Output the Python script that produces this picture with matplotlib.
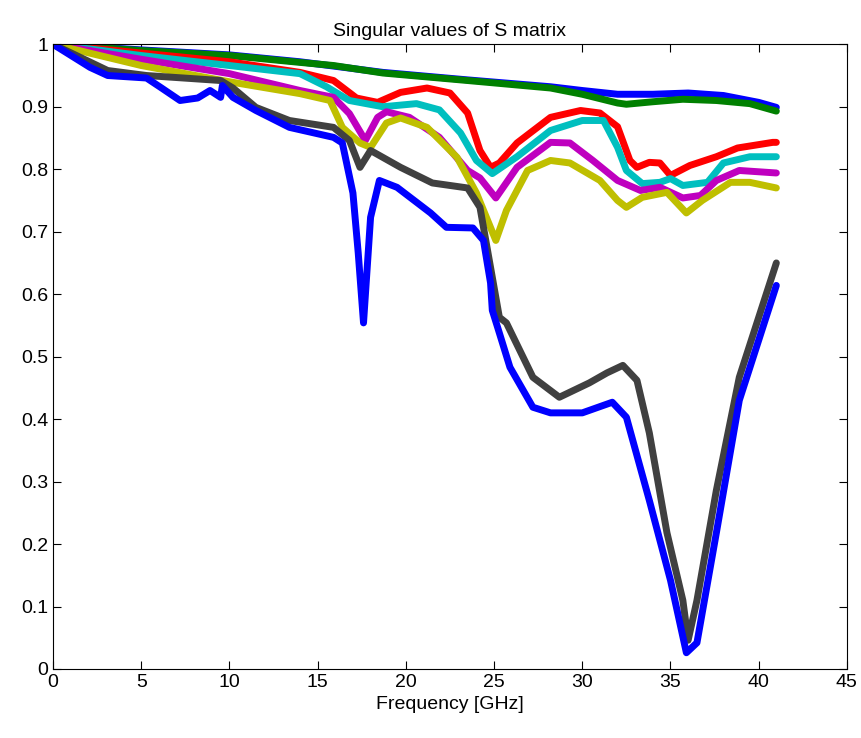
import numpy as np
import matplotlib
matplotlib.use('Agg')
import matplotlib.pyplot as plt

plt.rcParams['font.family'] = ['Liberation Sans', 'DejaVu Sans']

# singular values, one (freq, value) list per curve
sv1_f = [0, 5, 10, 14, 18.7, 23.5, 28.2, 30, 32, 34, 36, 38, 40, 41]
sv1_v = [1.0, 0.991, 0.983, 0.972, 0.955, 0.943, 0.932, 0.926, 0.92, 0.92, 0.922, 0.918, 0.907, 0.899]

sv2_f = [0, 5, 10, 14, 15.9, 18.7, 23.5, 28.2, 30, 32, 32.5, 34, 35.7, 37.6, 39.5, 41]
sv2_v = [1.0, 0.99, 0.982, 0.971, 0.966, 0.954, 0.942, 0.93, 0.92, 0.906, 0.904, 0.908, 0.912, 0.91, 0.905, 0.893]

sv3_f = [0, 5, 10, 14, 15.9, 17.2, 18.4, 19.7, 21.2, 22.5, 23.5, 24.2, 24.8, 25.3, 26.3, 28.2,
         29.9, 31.0, 32.0, 32.7, 33.1, 33.8, 34.4, 35.0, 36.1, 37.6, 38.8, 40.8, 41]
sv3_v = [1.0, 0.986, 0.972, 0.955, 0.942, 0.914, 0.907, 0.923, 0.93, 0.922, 0.89, 0.83, 0.803, 0.81, 0.842, 0.883,
         0.894, 0.89, 0.868, 0.814, 0.803, 0.811, 0.81, 0.79, 0.806, 0.82, 0.834, 0.843, 0.843]

sv4_f = [0, 5, 10, 14, 15.5, 16.8, 18.7, 20.6, 21.9, 23.1, 24.0, 24.9, 26.3, 28.2, 30.0, 31.2,
         32.0, 32.5, 33.4, 34.4, 35.0, 35.7, 37.1, 38.0, 39.5, 41]
sv4_v = [1.0, 0.982, 0.966, 0.953, 0.932, 0.91, 0.9, 0.905, 0.895, 0.858, 0.814, 0.793, 0.82, 0.862, 0.878, 0.878,
         0.835, 0.798, 0.777, 0.779, 0.785, 0.774, 0.779, 0.81, 0.82, 0.82]

sv5_f = [0, 5, 10, 14, 15.9, 16.8, 17.7, 18.4, 18.9, 20.2, 21.9, 23.5, 24.2, 25.1, 26.3, 28.2,
         29.3, 30.6, 32.0, 33.3, 34.4, 35.7, 36.7, 37.6, 38.9, 41]
sv5_v = [1.0, 0.976, 0.953, 0.926, 0.915, 0.889, 0.846, 0.883, 0.892, 0.883, 0.851, 0.798, 0.786, 0.754, 0.803, 0.843,
         0.842, 0.814, 0.782, 0.766, 0.771, 0.754, 0.758, 0.782, 0.798, 0.794]

sv6_f = [0, 5, 10, 14, 15.7, 16.4, 17.4, 18.0, 18.9, 19.7, 21.2, 22.9, 24.0, 25.1, 25.7, 26.9, 28.2,
         29.3, 31.0, 32.0, 32.5, 33.4, 34.8, 35.9, 36.8, 38.4, 39.5, 41]
sv6_v = [1.0, 0.966, 0.94, 0.921, 0.91, 0.867, 0.842, 0.835, 0.874, 0.882, 0.867, 0.819, 0.762, 0.686, 0.734, 0.798, 0.814,
         0.81, 0.782, 0.75, 0.739, 0.755, 0.763, 0.73, 0.75, 0.779, 0.779, 0.77]

sv7_f = [0, 3.1, 5.3, 9.5, 10.2, 11.5, 13.4, 15.9, 16.8, 17.4, 18.0, 19.7, 21.5, 23.5, 24.2, 24.8, 25.3,
         25.7, 27.2, 28.7, 30.4, 31.4, 32.3, 33.1, 33.8, 34.8, 35.7, 36.0, 36.5, 37.6, 38.9, 41]
sv7_v = [1.0, 0.958, 0.95, 0.942, 0.93, 0.899, 0.878, 0.867, 0.846, 0.803, 0.83, 0.803, 0.778, 0.77, 0.739, 0.643, 0.563,
         0.554, 0.467, 0.435, 0.458, 0.474, 0.486, 0.462, 0.378, 0.218, 0.11, 0.046, 0.11, 0.286, 0.467, 0.65]

sv8_f = [0, 2.1, 3.1, 5.3, 6.1, 7.2, 8.2, 8.9, 9.5, 9.6, 10.2, 11.5, 13.4, 15.9, 16.4, 17.0, 17.3, 17.6,
         18.0, 18.5, 19.5, 21.4, 22.3, 23.8, 24.4, 24.8, 24.9, 25.2, 25.9, 27.2, 28.2, 30.0, 31.7, 32.5,
         33.8, 35.0, 35.9, 36.5, 37.6, 38.9, 41]
sv8_v = [1.0, 0.963, 0.95, 0.946, 0.931, 0.91, 0.914, 0.926, 0.915, 0.934, 0.915, 0.894, 0.867, 0.851, 0.842, 0.762, 0.666, 0.554,
         0.723, 0.782, 0.771, 0.73, 0.707, 0.706, 0.686, 0.618, 0.574, 0.547, 0.483, 0.419, 0.41, 0.41, 0.427, 0.403,
         0.27, 0.142, 0.026, 0.042, 0.218, 0.43, 0.614]

curves = [(sv1_f, sv1_v), (sv2_f, sv2_v), (sv3_f, sv3_v), (sv4_f, sv4_v),
          (sv5_f, sv5_v), (sv6_f, sv6_v), (sv7_f, sv7_v), (sv8_f, sv8_v)]
# old matlab colour order, cycling back to blue for the 8th
colors = [(0, 0, 1), (0, 0.5, 0), (1, 0, 0), (0, 0.75, 0.75),
          (0.75, 0, 0.75), (0.75, 0.75, 0), (0.25, 0.25, 0.25), (0, 0, 1)]

fig = plt.figure(figsize=(8.62, 7.38), dpi=100)
ax = fig.add_axes([0.0615, 0.0935, 0.921, 0.8465])

for (f, v), c in zip(curves, colors):
    ax.plot(f, v, '-', color=c, linewidth=5, solid_joinstyle='round', solid_capstyle='round')

ax.set_xlim(0, 45)
ax.set_ylim(0, 1)
ax.set_xticks(np.arange(0, 46, 5))
ax.set_yticks(np.arange(0, 1.01, 0.1))
ax.set_yticklabels(['0', '0.1', '0.2', '0.3', '0.4', '0.5', '0.6', '0.7', '0.8', '0.9', '1'])
ax.tick_params(direction='in', top=True, right=True, length=6, labelsize=14)
ax.set_xlabel('Frequency [GHz]', fontsize=14)
ax.set_title('Singular values of S matrix', fontsize=14)

fig.savefig('out.png', dpi=100)
